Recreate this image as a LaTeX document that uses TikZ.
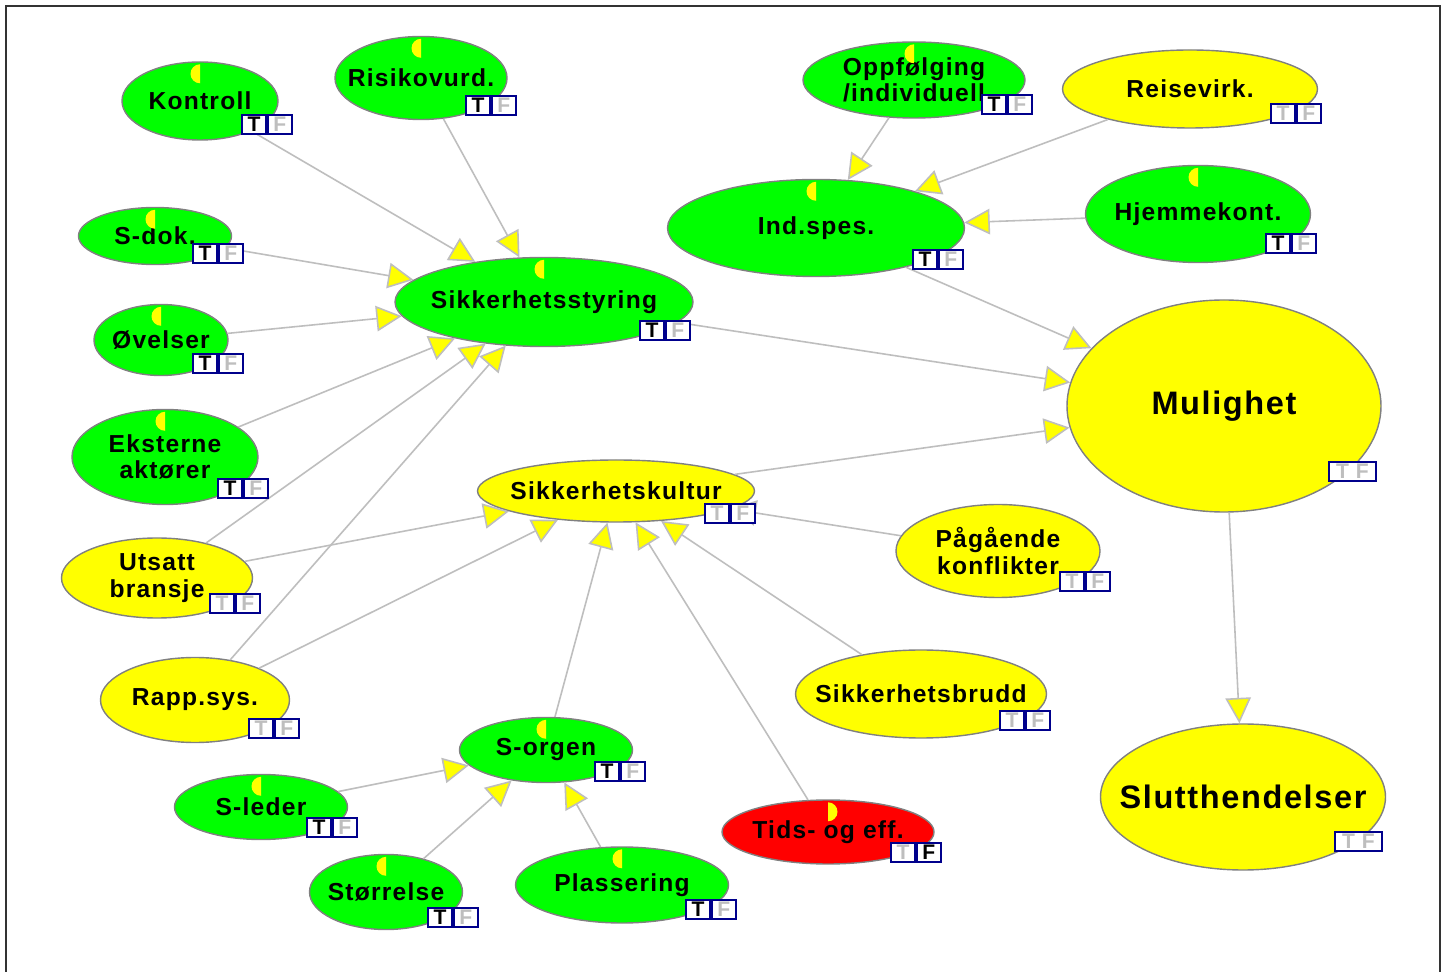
\documentclass[tikz,border=0pt]{standalone}
\usepackage{fontspec}
\newfontfamily\lblfont{Liberation Sans}[LetterSpace=5]
\newfontfamily\tffont{Liberation Sans}
\usetikzlibrary{shapes.geometric}
\usetikzlibrary{arrows.meta}

\definecolor{nodegreen}{RGB}{0,255,0}
\definecolor{nodeyellow}{RGB}{255,255,0}
\definecolor{nodered}{RGB}{255,0,0}
\definecolor{edgegray}{RGB}{190,190,190}
\definecolor{rimgray}{RGB}{128,128,128}
\definecolor{tfnavy}{RGB}{0,0,140}
\definecolor{tfgray}{RGB}{190,190,190}

\tikzset{
	chance/.style={ellipse, draw=rimgray, line width=0.8pt, inner sep=0pt},
	sz/.style 2 args={minimum width=#1*0.02cm, minimum height=#2*0.02cm},
	lbl/.style={font=\lblfont\bfseries\fontsize{14}{15}\selectfont, align=center, inner sep=0pt},
	biglbl/.style={font=\lblfont\bfseries\fontsize{18.5}{20}\selectfont, inner sep=0pt},
	link/.style={draw=edgegray, line width=0.9pt, -{Triangle[length=14.5pt, width=14.5pt, fill=nodeyellow]}},
	tfcell/.style={draw=tfnavy, line width=1.1pt, fill=white, inner sep=0pt,
		minimum width=0.48cm, minimum height=0.38cm, font=\tffont\bfseries\fontsize{12}{12}\selectfont},
	pipfill/.style={fill=nodeyellow}
}

% T/F state boxes
\newcommand{\tfpair}[4]{%
	\node[tfcell, text=#3, anchor=north west] (#1-t) at #2 {T};
	\node[tfcell, text=#4, anchor=west] (#1-f) at (#1-t.east) {F};}
\newcommand{\tfwide}[2]{%
	\node[tfcell, text=tfgray, anchor=north west, minimum width=0.94cm] (#1-tf) at #2 {T\,\,F};}
% half-disc indicators
\newcommand{\pipleft}[1]{\fill[pipfill] ([yshift=-0.25cm]#1.north) ++(0cm,0.19cm) arc[start angle=90, end angle=270, radius=0.19cm] -- cycle;}
\newcommand{\pipright}[1]{\fill[pipfill] ([yshift=-0.25cm]#1.north) ++(0cm,-0.19cm) arc[start angle=-90, end angle=90, radius=0.19cm] -- cycle;}

\begin{document}
\begin{tikzpicture}[x=0.02cm, y=-0.02cm]
		\useasboundingbox (0,0) rectangle (1447,972);
		\fill[white] (0,0) rectangle (1447,972);
		\draw[line width=1.3pt, black!80] (6,972) -- (6,6) -- (1440,6) -- (1440,972);

		% left cluster
		\node[chance, fill=nodegreen, sz={156}{78}, label={[lbl]center:Kontroll}] (kontroll) at (200,101) {};
		\node[chance, fill=nodegreen, sz={172}{83}, label={[lbl]center:Risikovurd.}] (risiko) at (421,78) {};
		\node[chance, fill=nodegreen, sz={153}{57}, label={[lbl]center:S-dok.}] (sdok) at (155,236) {};
		\node[chance, fill=nodegreen, sz={134}{71}, label={[lbl]center:Øvelser}] (ovelser) at (161,340) {};
		\node[chance, fill=nodegreen, sz={186}{95}, label={[lbl]center:Eksterne\\aktører}] (eksterne) at (165,457) {};
		\node[chance, fill=nodeyellow, sz={191}{80}, label={[lbl]center:Utsatt\\bransje}] (utsatt) at (157,578) {};
		\node[chance, fill=nodeyellow, sz={189}{85}, label={[lbl]center:Rapp.sys.}] (rapp) at (195,700) {};
		\node[chance, fill=nodegreen, sz={298}{89}, label={[lbl]center:Sikkerhetsstyring}] (styring) at (544,302) {};
		\node[chance, fill=nodeyellow, sz={277}{62}, label={[lbl]center:Sikkerhetskultur}] (kultur) at (616,491) {};

		% bottom cluster
		\node[chance, fill=nodegreen, sz={173}{65}, label={[lbl]center:S-leder}] (sleder) at (261,807) {};
		\node[chance, fill=nodegreen, sz={153}{75}, label={[lbl]center:Størrelse}] (storrelse) at (386,892) {};
		\node[chance, fill=nodegreen, sz={173}{65}, label={[lbl]center:S-orgen}] (sorgen) at (546,750) {};
		\node[chance, fill=nodegreen, sz={213}{76}, label={[lbl]center:Plassering}] (plassering) at (622,885) {};
		\node[chance, fill=nodered, sz={212}{64}, label={[lbl]center:Tids- og eff.}] (tids) at (828,832) {};
		\node[chance, fill=nodeyellow, sz={251}{88}, label={[lbl]center:Sikkerhetsbrudd}] (brudd) at (921,694) {};
		\node[chance, fill=nodeyellow, sz={204}{93}, label={[lbl]center:Pågående\\konflikter}] (konflikter) at (998,551) {};

		% right cluster
		\node[chance, fill=nodegreen, sz={222}{76}, label={[lbl]center:Oppfølging\\/individuell}] (oppf) at (914,80) {};
		\node[chance, fill=nodeyellow, sz={255}{78}, label={[lbl]center:Reisevirk.}] (reise) at (1190,89) {};
		\node[chance, fill=nodegreen, sz={225}{97}, label={[lbl]center:Hjemmekont.}] (hjemme) at (1198,214) {};
		\node[chance, fill=nodegreen, sz={297}{97}, label={[lbl]center:Ind.spes.}] (indspes) at (816,228) {};
		\node[chance, fill=nodeyellow, sz={314}{212}, label={[biglbl]center:Mulighet}] (mulighet) at (1224,406) {};
		\node[chance, fill=nodeyellow, sz={285}{146}, label={[biglbl]center:Slutthendelser}] (slutt) at (1243,797) {};

		% indicators
		\pipleft{kontroll}
		\pipleft{risiko}
		\pipleft{sdok}
		\pipleft{ovelser}
		\pipleft{eksterne}
		\pipleft{styring}
		\pipleft{sleder}
		\pipleft{storrelse}
		\pipleft{sorgen}
		\pipleft{plassering}
		\pipright{tids}
		\pipleft{oppf}
		\pipleft{hjemme}
		\pipleft{indspes}

		% links
		\draw[link] (kontroll) -- (styring);
		\draw[link] (risiko) -- (styring);
		\draw[link] (sdok) -- (styring);
		\draw[link] (ovelser) -- (styring);
		\draw[link] (eksterne) -- (styring);
		\draw[link] (utsatt) -- (styring);
		\draw[link] (rapp) -- (styring);
		\draw[link] (utsatt) -- (kultur);
		\draw[link] (rapp) -- (kultur);
		\draw[link] (sorgen) -- (kultur);
		\draw[link] (tids) -- (kultur);
		\draw[link] (brudd) -- (kultur);
		\draw[link] (konflikter) -- (kultur);
		\draw[link] (sleder) -- (sorgen);
		\draw[link] (storrelse) -- (sorgen);
		\draw[link] (plassering) -- (sorgen);
		\draw[link] (oppf) -- (indspes);
		\draw[link] (reise) -- (indspes);
		\draw[link] (hjemme) -- (indspes);
		\draw[link] (styring) -- (mulighet);
		\draw[link] (kultur) -- (mulighet);
		\draw[link] (indspes) -- (mulighet);
		\draw[link] (mulighet) -- (slutt);

		% state boxes
		\tfpair{kontroll}{(241,114)}{black}{tfgray}
		\tfpair{risiko}{(465,95)}{black}{tfgray}
		\tfpair{sdok}{(192,243)}{black}{tfgray}
		\tfpair{ovelser}{(192,353)}{black}{tfgray}
		\tfpair{eksterne}{(217,478)}{black}{tfgray}
		\tfpair{utsatt}{(209,593)}{tfgray}{tfgray}
		\tfpair{rapp}{(248,718)}{tfgray}{tfgray}
		\tfpair{styring}{(639,320)}{black}{tfgray}
		\tfpair{kultur}{(704,503)}{tfgray}{tfgray}
		\tfpair{sleder}{(306,817)}{black}{tfgray}
		\tfpair{storrelse}{(427,907)}{black}{tfgray}
		\tfpair{sorgen}{(594,761)}{black}{tfgray}
		\tfpair{plassering}{(685,899)}{black}{tfgray}
		\tfpair{tids}{(890,842)}{tfgray}{black}
		\tfpair{brudd}{(999,710)}{tfgray}{tfgray}
		\tfpair{konflikter}{(1059,571)}{tfgray}{tfgray}
		\tfpair{oppf}{(981,94)}{black}{tfgray}
		\tfpair{reise}{(1270,103)}{tfgray}{tfgray}
		\tfpair{hjemme}{(1265,233)}{black}{tfgray}
		\tfpair{indspes}{(912,249)}{black}{tfgray}
		\tfwide{mulighet}{(1328,461)}
		\tfwide{slutt}{(1334,831)}
	\end{tikzpicture}
\end{document}
